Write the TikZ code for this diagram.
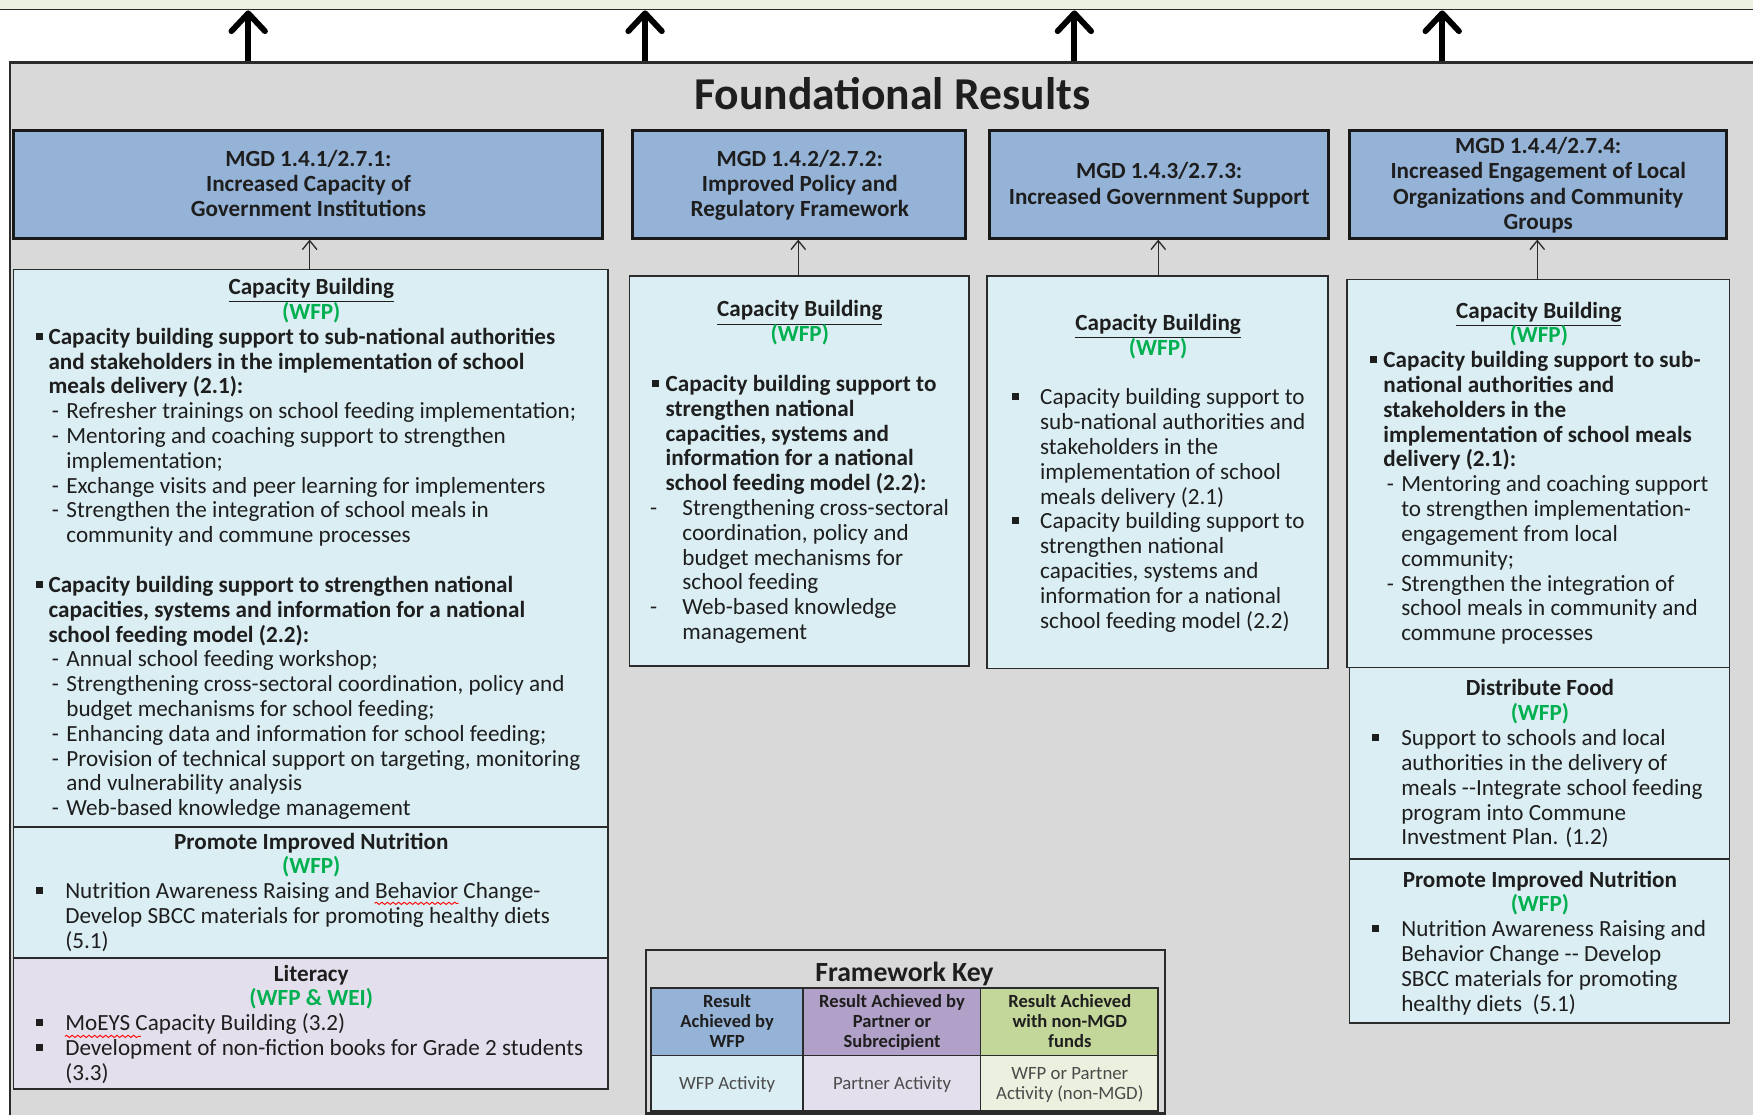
\documentclass[tikz,border=0pt]{standalone}
\usepackage{fontspec}
\setmainfont{Carlito}
\usetikzlibrary{arrows.meta,fit,decorations.pathmorphing}
\definecolor{bggray}{HTML}{D9D9D9}
\definecolor{mgdblue}{HTML}{95B3D7}
\definecolor{actblue}{HTML}{DAEEF3}
\definecolor{actpurple}{HTML}{E4DFEC}
\definecolor{keypurple}{HTML}{B1A0C7}
\definecolor{keygreen}{HTML}{C4D79B}
\definecolor{actgreen}{HTML}{EBF1DE}
\definecolor{wfpgreen}{HTML}{00B050}
\definecolor{topband}{HTML}{ECF1E0}
\definecolor{txt}{HTML}{1E1E1E}
\definecolor{edge}{HTML}{2B2B2B}

\newcommand\Sq{\raisebox{0.2em}{\rule{0.3em}{0.3em}}}
\newcommand\Cl[1]{\hbox to\hsize{\hss#1\hss}}
\newcommand\Bl[3]{\hbox{\hskip#1\relax\hbox to\dimexpr#2-#1\relax{\Sq\hss}#3}}
\newcommand\Dl[3]{\hbox{\hskip#1\relax\hbox to\dimexpr#2-#1\relax{-\hss}#3}}
\newcommand\Tl[2]{\hbox{\hskip#1\relax#2}}
\newcommand\Bx[3][11.1pt]{\parbox[t]{#2}{\baselineskip=#1\lineskiplimit=-\maxdimen\lineskip=0pt\relax #3}}
\newcommand\Gr[1]{\textcolor{wfpgreen}{\textbf{#1}}}

\tikzset{
  frame/.style={draw=edge, line width=1pt, fill=bggray, inner sep=0pt},
  band/.style={draw=edge, line width=0.8pt, fill=topband, inner sep=0pt},
  mgd/.style={draw=black!90, line width=1.3pt, fill=mgdblue, inner sep=0pt},
  mgdtxt/.style={anchor=base west, inner sep=0pt, text=txt, font=\fontsize{10.35}{11.25}\selectfont\bfseries},
  act/.style={draw=edge, line width=0.8pt, fill=actblue, inner sep=0pt},
  actp/.style={act, fill=actpurple},
  body/.style={anchor=base west, inner sep=0pt, text=txt, font=\fontsize{10.35}{11.1}\selectfont},
  bigarr/.style={line width=2.6pt, -{Straight Barb[length=8pt,width=15pt,round]}},
  smarr/.style={line width=0.6pt, draw=edge, -{Straight Barb[length=4pt,width=6.5pt]}},
  keybox/.style={draw=edge, line width=0.8pt, inner sep=0pt},
  keyhead/.style={anchor=base west, inner sep=0pt, font=\fontsize{8.3}{9}\selectfont\bfseries, text=txt},
  keycell/.style={anchor=base west, inner sep=0pt, font=\fontsize{8.4}{9}\selectfont, text=txt!80},
  squig/.style={draw=red, line width=0.4pt, decorate, decoration={snake, amplitude=0.5pt, segment length=2.5pt}},
}

\begin{document}
\begin{tikzpicture}[x=0.5pt,y=-0.5pt]
\useasboundingbox (0,0) rectangle (1568,997);

\node[band, fit={(-20,-20)(1620,8.5)}] (top) {};
\node[frame, fit={(9,56)(1620,1040)}] (fr) {};

\node[font=\fontsize{20.4}{24}\selectfont\bfseries, text=txt] (title) at (798,84) {Foundational Results};

% MGD result boxes
\node[mgd, fit={(12,117)(539,213)}] (m1) {};
\node[mgd, fit={(566,117)(864,213)}] (m2) {};
\node[mgd, fit={(885,117)(1188,213)}] (m3) {};
\node[mgd, fit={(1207,117)(1544,213)}] (m4) {};
\node[mgdtxt] (m1t) at (12,149) {\Bx[11.25pt]{263.5pt}{\Cl{MGD 1.4.1/2.7.1:}\Cl{Increased Capacity of}\Cl{Government Institutions}}};
\node[mgdtxt] (m2t) at (566,149) {\Bx[11.25pt]{149pt}{\Cl{MGD 1.4.2/2.7.2:}\Cl{Improved Policy and}\Cl{Regulatory Framework}}};
\node[mgdtxt] (m3t) at (885,160) {\Bx[11.25pt]{151.5pt}{\Cl{MGD 1.4.3/2.7.3:}\Cl{Increased Government Support}}};
\node[mgdtxt] (m4t) at (1207,137.5) {\Bx[11.25pt]{168.5pt}{\Cl{MGD 1.4.4/2.7.4:}\Cl{Increased Engagement of Local}\Cl{Organizations and Community}\Cl{Groups}}};

% activity boxes
\node[act, fit={(12,241)(544,740)}] (cb1) {};
\node[act, fit={(12,740)(544,857)}] (pn1) {};
\node[actp, fit={(12,857)(544,974)}] (lit1) {};
\node[act, fit={(563,247)(867,596)}] (cb2) {};
\node[act, fit={(883,247)(1188,598)}] (cb3) {};
\node[act, fit={(1205,250)(1547,597)}] (cb4) {};
\node[act, fit={(1207,597)(1547,768)}] (df4) {};
\node[act, fit={(1207,768)(1547,915)}] (pn4) {};

% arrows up to the top band
\foreach \xx in {222,577,961,1290}
  \draw[bigarr] (\xx,0 |- fr.north) -- (\xx,0 |- top.south);

% arrows from activities to MGD results
\draw[smarr] (277,0 |- cb1.north) -- (277,0 |- m1.south);
\draw[smarr] (714,0 |- cb2.north) -- (714,0 |- m2.south);
\draw[smarr] (1036,0 |- cb3.north) -- (1036,0 |- m3.south);
\draw[smarr] (1375,0 |- cb4.north) -- (1375,0 |- m4.south);

% texts
\node[body] (cb1t) at (12,263.5) {\Bx{266pt}{%
\Cl{\textbf{\underline{Capacity Building}}}
\Cl{\Gr{(WFP)}}
\Bl{10pt}{15.5pt}{\textbf{Capacity building support to sub-national authorities}}
\Tl{15.5pt}{\textbf{and stakeholders in the implementation of school}}
\Tl{15.5pt}{\textbf{meals delivery (2.1):}}
\Dl{17pt}{23.5pt}{Refresher trainings on school feeding implementation;}
\Dl{17pt}{23.5pt}{Mentoring and coaching support to strengthen}
\Tl{23.5pt}{implementation;}
\Dl{17pt}{23.5pt}{Exchange visits and peer learning for implementers}
\Dl{17pt}{23.5pt}{Strengthen the integration of school meals in}
\Tl{23.5pt}{community and commune processes}
\hbox{}
\Bl{10pt}{15.5pt}{\textbf{Capacity building support to strengthen national}}
\Tl{15.5pt}{\textbf{capacities, systems and information for a national}}
\Tl{15.5pt}{\textbf{school feeding model (2.2):}}
\Dl{17pt}{23.5pt}{Annual school feeding workshop;}
\Dl{17pt}{23.5pt}{Strengthening cross-sectoral coordination, policy and}
\Tl{23.5pt}{budget mechanisms for school feeding;}
\Dl{17pt}{23.5pt}{Enhancing data and information for school feeding;}
\Dl{17pt}{23.5pt}{Provision of technical support on targeting, monitoring}
\Tl{23.5pt}{and vulnerability analysis}
\Dl{17pt}{23.5pt}{Web-based knowledge management}}};

\node[body] (pn1t) at (12,759.5) {\Bx{266pt}{%
\Cl{\textbf{Promote Improved Nutrition}}
\Cl{\Gr{(WFP)}}
\Bl{10pt}{23pt}{Nutrition Awareness Raising and Behavior Change-}
\Tl{23pt}{Develop SBCC materials for promoting healthy diets}
\Tl{23pt}{(5.1)}}};

\node[body] (lit1t) at (12,877.5) {\Bx{266pt}{%
\Cl{\textbf{Literacy}}
\Cl{\Gr{(WFP \& WEI)}}
\Bl{10pt}{23pt}{MoEYS Capacity Building (3.2)}
\Bl{10pt}{23pt}{Development of non-fiction books for Grade 2 students}
\Tl{23pt}{(3.3)}}};

\node[body] (cb2t) at (563,283.5) {\Bx{152pt}{%
\Cl{\textbf{\underline{Capacity Building}}}
\Cl{\Gr{(WFP)}}
\hbox{}
\Bl{10pt}{16pt}{\textbf{Capacity building support to}}
\Tl{16pt}{\textbf{strengthen national}}
\Tl{16pt}{\textbf{capacities, systems and}}
\Tl{16pt}{\textbf{information for a national}}
\Tl{16pt}{\textbf{school feeding model (2.2):}}
\Dl{9pt}{23.5pt}{Strengthening cross-sectoral}
\Tl{23.5pt}{coordination, policy and}
\Tl{23.5pt}{budget mechanisms for}
\Tl{23.5pt}{school feeding}
\Dl{9pt}{23.5pt}{Web-based knowledge}
\Tl{23.5pt}{management}}};

\node[body] (cb3t) at (883,295.5) {\Bx{152.5pt}{%
\Cl{\textbf{\underline{Capacity Building}}}
\Cl{\Gr{(WFP)}}
\hbox{}
\Bl{11pt}{23.5pt}{Capacity building support to}
\Tl{23.5pt}{sub-national authorities and}
\Tl{23.5pt}{stakeholders in the}
\Tl{23.5pt}{implementation of school}
\Tl{23.5pt}{meals delivery (2.1)}
\Bl{11pt}{23.5pt}{Capacity building support to}
\Tl{23.5pt}{strengthen national}
\Tl{23.5pt}{capacities, systems and}
\Tl{23.5pt}{information for a national}
\Tl{23.5pt}{school feeding model (2.2)}}};

\node[body] (cb4t) at (1205,284.5) {\Bx{171pt}{%
\Cl{\textbf{\underline{Capacity Building}}}
\Cl{\Gr{(WFP)}}
\Bl{10pt}{16pt}{\textbf{Capacity building support to sub-}}
\Tl{16pt}{\textbf{national authorities and}}
\Tl{16pt}{\textbf{stakeholders in the}}
\Tl{16pt}{\textbf{implementation of school meals}}
\Tl{16pt}{\textbf{delivery (2.1):}}
\Dl{17.5pt}{24pt}{Mentoring and coaching support}
\Tl{24pt}{to strengthen implementation-}
\Tl{24pt}{engagement from local}
\Tl{24pt}{community;}
\Dl{17.5pt}{24pt}{Strengthen the integration of}
\Tl{24pt}{school meals in community and}
\Tl{24pt}{commune processes}}};

\node[body] (df4t) at (1207,622.5) {\Bx{170pt}{%
\Cl{\textbf{Distribute Food}}
\Cl{\Gr{(WFP)}}
\Bl{10pt}{23pt}{Support to schools and local}
\Tl{23pt}{authorities in the delivery of}
\Tl{23pt}{meals -{}-Integrate school feeding}
\Tl{23pt}{program into Commune}
\Tl{23pt}{Investment Plan. (1.2)}}};

\node[body] (pn4t) at (1207,793.5) {\Bx{170pt}{%
\Cl{\textbf{Promote Improved Nutrition}}
\Cl{\Gr{(WFP)}}
\Bl{10pt}{23pt}{Nutrition Awareness Raising and}
\Tl{23pt}{Behavior Change -{}- Develop}
\Tl{23pt}{SBCC materials for promoting}
\Tl{23pt}{healthy diets\ \ (5.1)}}};

% spell-check marks
\draw[squig] (335,808) -- (410,808);
\draw[squig] (58,927) -- (126,927);

% framework key
\node[draw=edge, line width=1pt, fill=bggray, inner sep=0pt, fit={(578,850)(1042,996)}] (key) {};
\node[font=\fontsize{12.4}{14}\selectfont\bfseries, text=txt] (keyt) at (809,873) {\underline{Framework Key}};
\node[keybox, fill=mgdblue, fit={(582,884)(718,944)}] (k1h) {};
\node[keybox, fill=keypurple, fit={(718,884)(877,944)}] (k2h) {};
\node[keybox, fill=keygreen, fit={(877,884)(1036,944)}] (k3h) {};
\node[keybox, fill=actblue, fit={(582,944)(718,994)}] (k1) {};
\node[keybox, fill=actpurple, fit={(718,944)(877,994)}] (k2) {};
\node[keybox, fill=actgreen, fit={(877,944)(1036,994)}] (k3) {};
\node[keyhead] (k1ht) at (582,901) {\Bx[9pt]{68pt}{\Cl{Result}\Cl{Achieved by}\Cl{WFP}}};
\node[keyhead] (k2ht) at (718,901) {\Bx[9pt]{79.5pt}{\Cl{Result Achieved by}\Cl{Partner or}\Cl{Subrecipient}}};
\node[keyhead] (k3ht) at (877,901) {\Bx[9pt]{79.5pt}{\Cl{Result Achieved}\Cl{with non-MGD}\Cl{funds}}};
\node[keycell] (k1t) at (582,974.5) {\Bx[9pt]{68pt}{\Cl{WFP Activity}}};
\node[keycell] (k2t) at (718,974.5) {\Bx[9pt]{79.5pt}{\Cl{Partner Activity}}};
\node[keycell] (k3t) at (877,965.5) {\Bx[9pt]{79.5pt}{\Cl{WFP or Partner}\Cl{Activity (non-MGD)}}};
\end{tikzpicture}
\end{document}
